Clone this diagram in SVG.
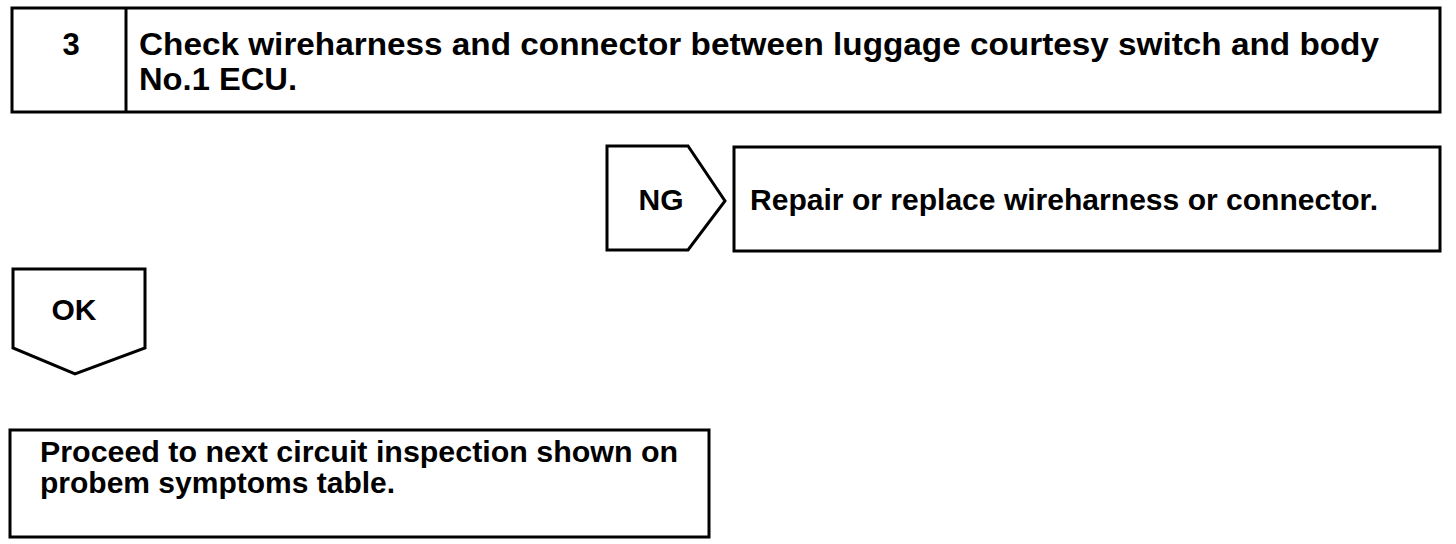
<svg xmlns="http://www.w3.org/2000/svg" width="1456" height="544" viewBox="0 0 1456 544">
<style>
.box{fill:#fff;stroke:#000;stroke-width:3}
.t{font-family:"Liberation Sans",Arial,sans-serif;font-weight:bold;fill:#000}
.big{font-size:31px}
.med{font-size:30px}
</style>
<rect width="1456" height="544" fill="#fff"/>
<g id="step3">
<rect class="box" x="12" y="8" width="1428" height="104"/>
<line x1="126" y1="8" x2="126" y2="112" stroke="#000" stroke-width="3"/>
<text class="t big" x="71" y="55" text-anchor="middle">3</text>
<text class="t big" x="139" y="55" textLength="1240" lengthAdjust="spacingAndGlyphs">Check wireharness and connector between luggage courtesy switch and body</text>
<text class="t big" x="139" y="90" textLength="158" lengthAdjust="spacingAndGlyphs">No.1 ECU.</text>
</g>
<g id="ng">
<polygon class="box" points="607,146 688,146 725,201 688,250 607,250"/>
<text class="t med" x="661" y="210" text-anchor="middle">NG</text>
</g>
<g id="repair">
<rect class="box" x="734" y="147" width="706" height="104"/>
<text class="t med" x="750" y="210" textLength="628" lengthAdjust="spacingAndGlyphs">Repair or replace wireharness or connector.</text>
</g>
<g id="ok">
<polygon class="box" points="13,269 145,269 145,348 75,374 13,348"/>
<text class="t med" x="74" y="320" text-anchor="middle">OK</text>
</g>
<g id="proceed">
<rect class="box" x="10" y="430" width="699" height="107"/>
<text class="t med" x="40" y="462" textLength="638" lengthAdjust="spacingAndGlyphs">Proceed to next circuit inspection shown on</text>
<text class="t med" x="40" y="493">probem symptoms table.</text>
</g>
<g id="connectors"></g>
</svg>
